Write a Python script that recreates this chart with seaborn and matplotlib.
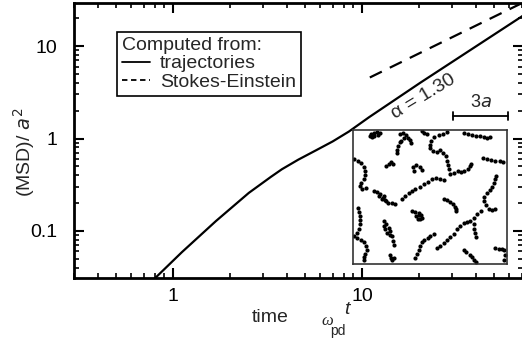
import numpy as np
import pandas as pd
import matplotlib
matplotlib.use("Agg")
import matplotlib.pyplot as plt
import seaborn as sns
from matplotlib.ticker import LogLocator, NullFormatter, FixedLocator, FixedFormatter
from matplotlib.lines import Line2D

# ---------------- main data ----------------
time_traj = [0.80, 1.116, 1.689, 2.52, 3.30, 3.77, 4.6, 5.71, 7.0, 8.53, 10.9, 20.3, 71.0]
msd_traj = [0.0305, 0.059, 0.128, 0.258, 0.385, 0.465, 0.59, 0.745, 0.93, 1.19, 1.70, 4.0, 21.3]
time_se = [11.0, 71.0]
msd_se = [4.57, 29.5]
series_labels = ["trajectories", "Stokes-Einstein"]
legend_title = "Computed from:"
slope_label = "α = 1.30"
x_ticks = [1, 10]
x_tick_labels = ["1", "10"]
y_ticks = [0.1, 1, 10]
y_tick_labels = ["0.1", "1", "10"]

# ---------------- inset trajectories (field units; 55 units = 1 a) ----------------
traj_x = {
    1: [58, 62, 70, 80, 88, 82, 72, 64],
    2: [150, 158, 166, 174, 180, 182, 160, 152],
    3: [148, 144, 141, 139],
    4: [214, 222, 230],
    5: [290, 278, 265, 252, 243, 238, 240, 248, 260, 270, 278, 286, 290, 293, 296, 298],
    6: [340, 352, 364, 376, 388, 400, 410, 418],
    7: [398, 410, 422, 435, 448, 458],
    8: [12, 22, 32, 40, 44, 44, 40, 32, 28, 36, 46],
    9: [108, 115, 122, 128],
    10: [70, 80, 90, 98, 106, 114, 124, 134],
    11: [85, 95, 104, 100],
    12: [155, 165, 175, 185, 195, 208, 220, 232, 245, 258, 270, 282],
    13: [190, 188, 198, 210, 215],
    14: [312, 322, 332, 342, 352, 358, 362],
    15: [438, 435, 432, 425, 418, 410, 402, 400, 406, 415, 425, 434],
    16: [280, 290, 300, 308, 314, 318, 316],
    17: [185, 195, 205, 212, 215, 210, 202, 198, 205],
    18: [22, 25, 28, 30, 30, 26, 20],
    19: [100, 108, 115, 120, 118, 110, 105, 102, 125, 128, 132],
    20: [195, 200, 205, 210, 215, 222, 232, 240, 250],
    21: [260, 270, 280, 290, 300, 310, 320, 330, 340, 350, 358, 370, 380, 392],
    22: [10, 20, 32, 42, 48, 50, 45, 40, 42],
    23: [120, 122, 126, 130],
    24: [340, 348, 358, 366, 372, 376],
    25: [435, 445, 455, 462, 465, 462],
    26: [370, 372, 374, 376],
}
traj_y = {
    1: [22, 16, 12, 10, 12, 18, 22, 24],
    2: [14, 12, 18, 26, 34, 42, 28, 35],
    3: [40, 52, 62, 72],
    4: [6, 12, 16],
    5: [10, 14, 18, 25, 35, 47, 58, 66, 70, 64, 72, 82, 95, 108, 120, 133],
    6: [12, 14, 17, 20, 22, 24, 28, 24],
    7: [88, 90, 92, 95, 97, 98],
    8: [90, 96, 102, 112, 125, 138, 150, 160, 170, 178, 175],
    9: [110, 105, 100, 103],
    10: [185, 188, 195, 205, 215, 220, 222, 224],
    11: [200, 210, 212, 200],
    12: [210, 200, 192, 185, 180, 172, 165, 158, 150, 145, 148, 152],
    13: [125, 112, 108, 112, 122],
    14: [130, 126, 128, 124, 118, 110, 104],
    15: [140, 150, 162, 172, 182, 192, 202, 215, 228, 240, 242, 238],
    16: [210, 212, 218, 225, 232, 240, 245],
    17: [245, 248, 252, 258, 265, 270, 268, 260, 257],
    18: [235, 248, 260, 272, 285, 298, 310],
    19: [275, 285, 295, 305, 315, 310, 300, 290, 320, 335, 345],
    20: [385, 372, 360, 348, 336, 330, 325, 318, 312],
    21: [355, 350, 340, 330, 322, 312, 300, 290, 282, 278, 275, 265, 255, 245],
    22: [320, 325, 330, 338, 350, 362, 372, 382, 392],
    23: [375, 385, 392, 385],
    24: [360, 368, 375, 382, 392, 398],
    25: [355, 358, 358, 360, 375, 390],
    26: [285, 298, 310, 322],
}
scale_bar_a = 3
units_per_a = 55

W, H = 522, 339
sns.set_style("ticks")
plt.rcParams["font.family"] = ["Liberation Sans", "DejaVu Sans"]
plt.rcParams["font.size"] = 14

fig = plt.figure(figsize=(W / 100, H / 100), dpi=100)
ax = fig.add_axes([74 / W, (H - 278) / H, (523 - 74) / W, 275 / H])

df_traj = pd.DataFrame({"t": time_traj, "msd": msd_traj})
df_se = pd.DataFrame({"t": time_se, "msd": msd_se})
sns.lineplot(data=df_traj, x="t", y="msd", ax=ax, color="black", lw=1.6,
             estimator=None, sort=False)
sns.lineplot(data=df_se, x="t", y="msd", ax=ax, color="black", lw=1.6,
             estimator=None, sort=False, dashes=False)
ax.lines[1].set_dashes([6, 4])

ax.set_xscale("log")
ax.set_yscale("log")
ax.set_xlim(0.3, 71)
ax.set_ylim(0.031, 29.2)
ax.xaxis.set_major_locator(FixedLocator(x_ticks))
ax.xaxis.set_major_formatter(FixedFormatter(x_tick_labels))
ax.yaxis.set_major_locator(FixedLocator(y_ticks))
ax.yaxis.set_major_formatter(FixedFormatter(y_tick_labels))
ax.xaxis.set_minor_locator(LogLocator(base=10, subs=np.arange(2, 10), numticks=20))
ax.yaxis.set_minor_locator(LogLocator(base=10, subs=np.arange(2, 10), numticks=20))
ax.xaxis.set_minor_formatter(NullFormatter())
ax.yaxis.set_minor_formatter(NullFormatter())
ax.tick_params(which="both", direction="in", top=True, right=True, colors="black")
ax.tick_params(which="major", length=7, width=1.5, labelsize=14)
ax.tick_params(axis="x", which="major", pad=7)
ax.tick_params(axis="y", which="major", pad=12)
ax.tick_params(which="minor", length=3.5, width=1.2)
for s in ax.spines.values():
    s.set_linewidth(2)
    s.set_color("black")
ax.set_xlabel("")
ax.set_ylabel("")

handles = [Line2D([], [], color="black", lw=1.3),
           Line2D([], [], color="black", lw=1.3, dashes=[3, 2])]
leg = ax.legend(handles, series_labels, title=legend_title, loc="upper left",
                bbox_to_anchor=((117 - 74) / 449, (278 - 32) / 275),
                borderaxespad=0, frameon=True, fancybox=False, edgecolor="black",
                framealpha=1, borderpad=0.25, labelspacing=0.05, handlelength=1.45,
                handletextpad=0.5, alignment="left", fontsize=14, title_fontsize=14)
leg.get_frame().set_linewidth(1.2)

# slope annotation
fig.text(423 / W, 1 - 97 / H, slope_label, rotation=31, ha="center", va="center",
         fontsize=14, rotation_mode="anchor")

# axis labels
fig.text(24 / W, 1 - 152 / H, r"(MSD)/ $\mathit{a}^2$", rotation=90, ha="center",
         va="center", fontsize=14)
fig.text(270 / W, 1 - 318 / H, "time", ha="center", va="center", fontsize=14)
fig.text(327 / W, 1 - 321 / H, "ω", ha="center", va="center", fontsize=12,
         family="Liberation Serif", style="italic")
fig.text(338 / W, 1 - 331 / H, "pd", ha="center", va="center", fontsize=10)
fig.text(347 / W, 1 - 310 / H, "t", ha="center", va="center", fontsize=14,
         style="italic")

# inset
axin = fig.add_axes([353 / W, (H - 264) / H, 154 / W, 134 / H])
rows = []
for k in traj_x:
    for xx, yy in zip(traj_x[k], traj_y[k]):
        rows.append((k, xx, yy))
df_in = pd.DataFrame(rows, columns=["traj", "x", "y"])
sns.scatterplot(data=df_in, x="x", y="y", ax=axin, color="black", s=9,
                linewidth=0, legend=False)
axin.set_xlim(8, 470)
axin.set_ylim(403, 3)
axin.set_xticks([])
axin.set_yticks([])
axin.set_xlabel("")
axin.set_ylabel("")
for s in axin.spines.values():
    s.set_linewidth(1.2)
    s.set_color("#333333")

# scale bar (3 a) above inset
x1 = 474
x0 = x1 - scale_bar_a * units_per_a
axin.plot([x0, x1], [-39, -39], color="black", lw=1.3, clip_on=False)
axin.plot([x0, x0], [-51, -27], color="black", lw=1.3, clip_on=False)
axin.plot([x1, x1], [-51, -27], color="black", lw=1.3, clip_on=False)
axin.text((x0 + x1) / 2, -55, r"3$\mathit{a}$", ha="center", va="bottom", fontsize=13)

fig.savefig("out.png", dpi=100)
